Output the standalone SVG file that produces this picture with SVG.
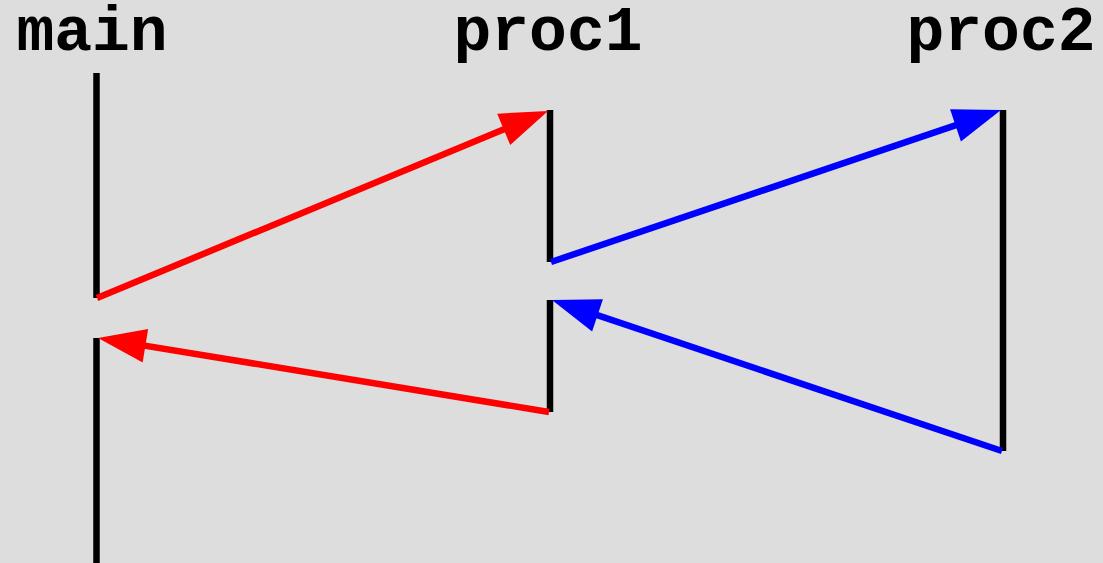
<svg xmlns="http://www.w3.org/2000/svg" width="1103" height="563" viewBox="0 0 1103 563">
<style>
.lbl{font-family:"Courier New","Nimbus Mono PS","FreeMono","Liberation Mono",monospace;font-weight:bold;font-size:63px;fill:#000;text-anchor:middle}
.life{stroke:#000;stroke-width:6.5;fill:none}
.red{stroke:#ff0000;stroke-width:6.5;fill:none;marker-end:url(#ahRed)}
.blue{stroke:#0000ff;stroke-width:6.5;fill:none;marker-end:url(#ahBlue)}
</style>
<defs>
<marker id="ahRed" markerUnits="userSpaceOnUse" markerWidth="48" markerHeight="34" refX="38" refY="17" orient="auto" overflow="visible">
<path d="M48,17 L0,0 L0,34 z" fill="#ff0000"/>
</marker>
<marker id="ahBlue" markerUnits="userSpaceOnUse" markerWidth="48" markerHeight="34" refX="38" refY="17" orient="auto" overflow="visible">
<path d="M48,17 L0,0 L0,34 z" fill="#0000ff"/>
</marker>
</defs>
<rect width="1103" height="563" fill="#dddddd"/>
<g id="main">
<text class="lbl" x="92" y="50">main</text>
<line class="life" x1="96.5" y1="73" x2="96.5" y2="298"/>
<line class="life" x1="96.5" y1="338" x2="96.5" y2="563"/>
</g>
<g id="proc1">
<text class="lbl" x="548" y="50">proc1</text>
<line class="life" x1="550" y1="110" x2="550" y2="262"/>
<line class="life" x1="550" y1="300" x2="550" y2="412"/>
</g>
<g id="proc2">
<text class="lbl" x="1001" y="50">proc2</text>
<line class="life" x1="1003" y1="110" x2="1003" y2="451"/>
</g>
<g id="connectors">
<line class="red" x1="97" y1="298" x2="538.8" y2="114.8"/>
<line class="blue" x1="551" y1="262" x2="991.5" y2="113.2"/>
<line class="blue" x1="1002" y1="451" x2="561.5" y2="303.2"/>
<line class="red" x1="549" y1="412" x2="107.9" y2="339.6"/>
</g>
</svg>
